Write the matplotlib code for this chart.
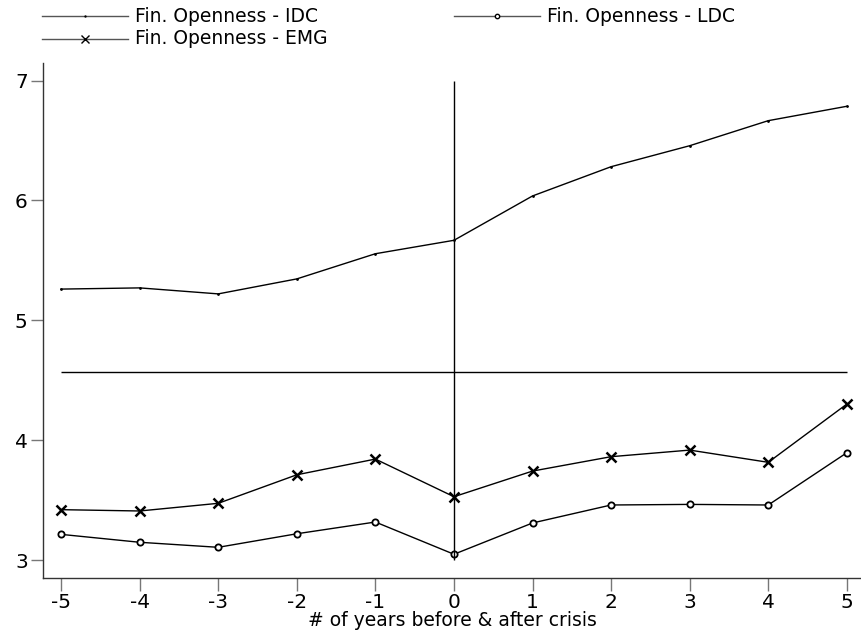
import numpy as np
import matplotlib
matplotlib.use('Agg')
import matplotlib.pyplot as plt
from matplotlib.lines import Line2D

plt.rcParams['font.family'] = ['DejaVu Sans']

years = [-5, -4, -3, -2, -1, 0, 1, 2, 3, 4, 5]
idc = [5.26, 5.27, 5.22, 5.345, 5.555, 5.667, 6.037, 6.281, 6.456, 6.665, 6.785]
ldc = [3.214, 3.148, 3.106, 3.219, 3.317, 3.048, 3.309, 3.459, 3.464, 3.459, 3.895]
emg = [3.42, 3.409, 3.473, 3.711, 3.842, 3.528, 3.742, 3.862, 3.917, 3.815, 4.301]
hline_y = 4.568
labels = ['Fin. Openness - IDC', 'Fin. Openness - LDC', 'Fin. Openness - EMG']

W, H = 861, 638
fig = plt.figure(figsize=(W / 100, H / 100), dpi=100)
ax = fig.add_axes([43 / W, 1 - 578 / H, (W - 43) / W, (578 - 63) / H])

l1, = ax.plot(years, idc, color='black', lw=1.0, marker='.', ms=2)
l2, = ax.plot(years, ldc, color='black', lw=1.0, marker='o', ms=4.5,
              mfc='white', mec='black', mew=1.3)
l3, = ax.plot(years, emg, color='black', lw=1.0, marker='x', ms=7.5, mew=1.8)

ax.hlines(hline_y, years[0], years[-1], color='black', lw=1.0)
ax.vlines(0, 3, 7, color='black', lw=1.0)

ax.set_xlim(-5.23, 5.18)
ax.set_ylim(2.85, 7.146)
ax.set_xticks(years)
ax.set_xticklabels([str(y) for y in years])
ax.set_yticks([3, 4, 5, 6, 7])

for s in ['top', 'right']:
    ax.spines[s].set_visible(False)
for s in ['left', 'bottom']:
    ax.spines[s].set_color('#333333')
    ax.spines[s].set_linewidth(1.0)
ax.tick_params(axis='both', length=9, width=1.0, color='#777777',
               labelsize=14.5, pad=2)
ax.set_xlabel('# of years before & after crisis', fontsize=13.5, labelpad=-1)

# legend drawn by hand, in pixels
def leg_item(x0, y0, line, text):
    fig.add_artist(Line2D([x0 / W, (x0 + 86) / W], [1 - y0 / H, 1 - y0 / H],
                          transform=fig.transFigure, color='#555555', lw=1.0))
    fig.add_artist(Line2D([(x0 + 43) / W], [1 - y0 / H], transform=fig.transFigure,
                          linestyle='none', marker=line.get_marker(),
                          ms=line.get_markersize() * 0.7, mfc=line.get_mfc(),
                          mec='black', mew=1.0))
    fig.text((x0 + 93) / W, 1 - y0 / H, text, fontsize=13.5, va='center', ha='left')

leg_item(42, 16, l1, labels[0])
leg_item(454, 16, l2, labels[1])
leg_item(42, 39, l3, labels[2])

fig.savefig('out.png', dpi=100)
